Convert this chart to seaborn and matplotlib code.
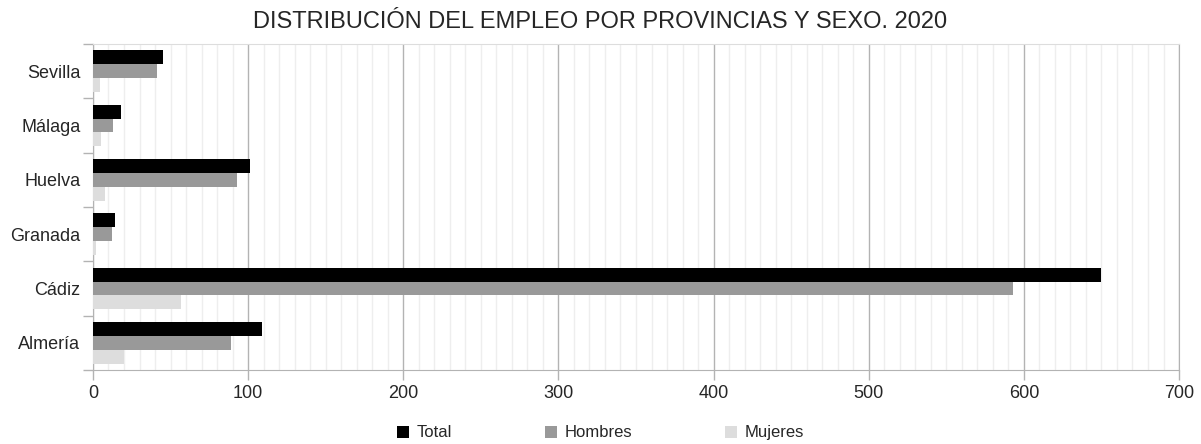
import pandas as pd
import matplotlib.pyplot as plt
import seaborn as sns
from matplotlib.ticker import MultipleLocator, FixedLocator

# Datos
provincias = ["Sevilla", "Málaga", "Huelva", "Granada", "Cádiz", "Almería"]
total = [45, 18, 101, 14, 650, 109]
hombres = [41, 13, 93, 12, 593, 89]
mujeres = [4.5, 5, 8, 2, 57, 20]
series = ["Total", "Hombres", "Mujeres"]
colores = ["#000000", "#999999", "#dddddd"]

df = pd.DataFrame({"Provincia": provincias, "Total": total,
                   "Hombres": hombres, "Mujeres": mujeres})
df = df.melt(id_vars="Provincia", var_name="Serie", value_name="Valor")

sns.set_style("white")
plt.rcParams['font.family'] = ['Liberation Sans', 'DejaVu Sans']

fig = plt.figure(figsize=(12.01, 4.44), dpi=100)
ax = fig.add_axes([0.0774, 0.1667, 0.9043, 0.7342])

sns.barplot(data=df, y="Provincia", x="Valor", hue="Serie",
            order=provincias, hue_order=series, palette=colores,
            width=0.77, gap=0, saturation=1, orient="h", ax=ax,
            legend=True, linewidth=0, zorder=3)

ax.set_xlim(0, 700)
ax.set_ylim(len(provincias) - 0.5, -0.5)
ax.xaxis.set_major_locator(MultipleLocator(100))
ax.xaxis.set_minor_locator(MultipleLocator(10))
ax.grid(axis="x", which="major", color="#b3b3b3", lw=1, zorder=0)
ax.grid(axis="x", which="minor", color="#eeeeee", lw=1, zorder=0)
ax.set_axisbelow(True)

# marcas del eje y en los límites de categoría
ax.yaxis.set_minor_locator(FixedLocator([i - 0.5 for i in range(len(provincias) + 1)]))
ax.tick_params(axis="y", which="major", length=0, pad=9, labelsize=13)
ax.tick_params(axis="y", which="minor", length=7, color="#b3b3b3", width=1, left=True)
ax.tick_params(axis="x", which="major", length=7, color="#b3b3b3", width=1,
               bottom=True, labelsize=13, pad=4)
ax.tick_params(axis="x", which="minor", length=0)

ax.set_xlabel("")
ax.set_ylabel("")
for s in ["left", "bottom", "right"]:
    ax.spines[s].set_color("#b3b3b3")
ax.spines["top"].set_color("#dddddd")

fig.suptitle("DISTRIBUCIÓN DEL EMPLEO POR PROVINCIAS Y SEXO. 2020",
             fontsize=17, x=0.5, y=0.95, va="center")

handles, labels = ax.get_legend_handles_labels()
ax.get_legend().remove()
fig.legend(handles, labels, loc="center", bbox_to_anchor=(0.5, 0.025),
           ncol=3, frameon=False, fontsize=12, handlelength=0.72,
           handleheight=0.72, handletextpad=0.45, columnspacing=5.6)

fig.savefig("out.png", dpi=100)
